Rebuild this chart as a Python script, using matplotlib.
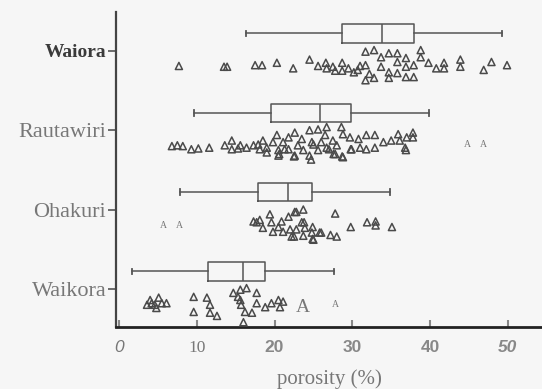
import matplotlib
matplotlib.use('Agg')
import matplotlib.pyplot as plt

# ---------------- data ----------------
sites = ['Waiora', 'Rautawiri', 'Ohakuri', 'Waikora']
whislo = [16.3, 9.7, 7.8, 1.7]
q1 = [28.7, 19.5, 17.9, 11.4]
med = [33.8, 25.8, 21.7, 15.9]
q3 = [37.9, 29.8, 24.8, 18.8]
whishi = [49.3, 39.9, 34.8, 27.7]

# porosity values of individual samples and their vertical jitter (category units below row)
waiora_x = [7.7, 13.5, 13.9, 17.5, 18.4, 20.3, 22.4, 24.5, 25.6, 26.6, 26.7, 27.5, 27.8,
            28.7, 28.7, 29.5, 30.2, 30.7, 31.0, 31.7, 31.7, 31.7, 32.2, 32.8, 32.8, 33.7,
            33.7, 34.7, 34.7, 34.7, 35.8, 35.8, 35.8, 36.9, 36.9, 36.9, 37.9, 37.9, 38.8,
            38.8, 39.8, 40.8, 41.8, 41.8, 43.9, 43.9, 46.9, 47.9, 49.9]
waiora_dy = [0.19, 0.20, 0.20, 0.18, 0.18, 0.15, 0.22, 0.11, 0.19, 0.15, 0.22, 0.20, 0.25,
             0.15, 0.25, 0.22, 0.27, 0.24, 0.19, 0.18, 0.01, 0.37, 0.29, -0.01, 0.34, 0.08,
             0.20, 0.03, 0.27, 0.34, 0.03, 0.14, 0.28, 0.09, 0.20, 0.33, 0.18, 0.33, -0.01,
             0.08, 0.15, 0.22, 0.15, 0.22, 0.11, 0.20, 0.24, 0.14, 0.18]

rauta_x = [6.8, 7.5, 8.2, 9.3, 10.2, 11.6, 13.6, 14.5, 14.5, 15.3, 15.6, 16.4, 17.3, 17.9,
           18.1, 18.5, 19.0, 19.0, 19.8, 20.3, 20.5, 20.5, 21.1, 21.3, 21.8, 21.8, 22.6, 22.6,
           23.5, 23.7, 24.5, 24.5, 24.8, 25.6, 25.6, 26.5, 26.7, 26.7, 27.5, 27.8, 28.6, 28.8,
           28.8, 29.7, 29.9, 30.8, 31.0, 31.8, 31.8, 32.9, 32.9, 34.0, 35.0, 35.9, 36.1, 36.8,
           37.0, 37.8, 37.8, 36.9, 20.6, 22.5, 24.7, 27.6, 28.7, 29.8, 23.0, 25.0, 26.0, 27.0,
           28.0]
rauta_dy = [0.20, 0.19, 0.20, 0.24, 0.23, 0.22, 0.19, 0.13, 0.24, 0.23, 0.19, 0.22, 0.19,
            0.18, 0.24, 0.13, 0.22, 0.28, 0.15, 0.06, 0.25, 0.32, 0.15, 0.24, 0.09, 0.24,
            0.03, 0.32, 0.11, 0.25, 0.00, 0.32, 0.15, -0.01, 0.25, 0.06, -0.04, 0.22, 0.13,
            0.30, -0.04, 0.05, 0.34, 0.09, 0.24, 0.11, 0.22, 0.06, 0.24, 0.06, 0.22, 0.15,
            0.13, 0.05, 0.13, 0.22, 0.09, 0.09, 0.03, 0.25, 0.30, 0.33, 0.37, 0.30, 0.33,
            0.24, 0.19, 0.18, 0.15, 0.24, 0.19]

ohak_x = [17.3, 17.7, 18.1, 18.5, 19.4, 19.6, 19.8, 20.5, 20.9, 21.1, 21.8, 22.0, 22.2, 22.6,
          22.8, 23.5, 23.7, 23.9, 24.8, 25.0, 25.8, 22.5, 23.7, 24.9, 26.0, 27.2, 28.0, 27.8,
          29.8, 31.9, 33.0, 33.0, 35.1, 23.8, 24.9, 22.8]
ohak_dy = [0.15, 0.16, 0.13, 0.23, 0.06, 0.16, 0.28, 0.22, 0.15, 0.28, 0.09, 0.25, 0.34, 0.03,
           0.25, 0.16, 0.00, 0.23, 0.29, 0.38, 0.29, 0.34, 0.33, 0.37, 0.29, 0.32, 0.34, 0.05,
           0.22, 0.16, 0.15, 0.20, 0.22, 0.16, 0.22, 0.03]

waik_x = [3.6, 4.0, 4.2, 4.6, 4.8, 5.1, 5.5, 6.1, 9.6, 9.6, 11.3, 11.7, 11.7, 12.6, 14.7, 15.6,
          16.4, 17.7, 15.6, 15.7, 16.2, 16.0, 17.1, 17.7, 18.8, 19.6, 20.5, 20.7, 21.1, 15.3]
waik_dy = [0.20, 0.14, 0.18, 0.20, 0.24, 0.11, 0.18, 0.18, 0.10, 0.29, 0.11, 0.20, 0.30, 0.34,
           0.05, 0.01, -0.01, 0.05, 0.14, 0.20, 0.29, 0.42, 0.30, 0.18, 0.23, 0.18, 0.14, 0.23,
           0.16, 0.10]

# stray "A" glyphs printed in place of triangles (value, row, jitter, size)
a_x = [44.8, 46.9, 5.7, 7.8, 23.7, 27.8]
a_row = [1, 1, 2, 2, 3, 3]
a_dy = [0.18, 0.18, 0.20, 0.20, 0.23, 0.20]
a_size = [7, 7, 7, 7, 14, 7]

# ---------------- figure ----------------
BG = '#f6f6f6'
fig = plt.figure(figsize=(5.42, 3.89), dpi=100, facecolor=BG)
ax = fig.add_axes([116 / 542, 62 / 389, 426 / 542, 315 / 389])
ax.set_facecolor(BG)

n = len(sites)
pos = [n - 1 - i for i in range(n)]  # Waiora on top
box_off = 0.22

stats = []
for i in range(n):
    stats.append(dict(whislo=whislo[i], q1=q1[i], med=med[i], q3=q3[i],
                      whishi=whishi[i], fliers=[], label=sites[i]))

lc = '#555555'
ax.bxp(stats, positions=[p + box_off for p in pos], vert=False, widths=0.23,
       showfliers=False, capwidths=0.07,
       boxprops=dict(color=lc, linewidth=1.1),
       medianprops=dict(color=lc, linewidth=1.1),
       whiskerprops=dict(color=lc, linewidth=1.1),
       capprops=dict(color=lc, linewidth=1.3),
       manage_ticks=False)

groups = [(waiora_x, waiora_dy), (rauta_x, rauta_dy), (ohak_x, ohak_dy), (waik_x, waik_dy)]
for i, (xs, dys) in enumerate(groups):
    ys = [pos[i] - d for d in dys]
    ax.scatter(xs, ys, marker='^', s=26, facecolors='none', edgecolors='#4a4a4a',
               linewidths=1.1, zorder=3)

for xv, r, d, sz in zip(a_x, a_row, a_dy, a_size):
    ax.text(xv, pos[r] - d, 'A', fontsize=sz, family='Liberation Serif',
            color='#777777', ha='center', va='center')

ax.set_xlim(-0.39, 54.4)
ax.set_ylim(-0.48, 3.49)

ax.set_yticks(pos)
ax.set_yticklabels(sites)
ax.tick_params(axis='y', direction='out', length=6, width=1.2, color='#555555', pad=1)
ax.set_xticks([0, 10, 20, 30, 40, 50])
ax.set_xticklabels(['0', '10', '20', '30', '40', '50'])
ax.tick_params(axis='x', direction='in', length=5, width=1.5, color='#888888', pad=9)

ylab_styles = [
    dict(family='Liberation Serif', weight='bold', size=14, color='#3a3a3a'),
    dict(family='Liberation Serif', weight='normal', size=16, color='#777777'),
    dict(family='Liberation Serif', weight='normal', size=16, color='#777777'),
    dict(family='Liberation Serif', weight='normal', size=16, color='#777777'),
]
for lab, st in zip(ax.get_yticklabels(), ylab_styles):
    lab.set_fontfamily(st['family'])
    lab.set_fontweight(st['weight'])
    lab.set_fontsize(st['size'])
    lab.set_color(st['color'])

xlab_styles = [
    dict(family='Liberation Sans', weight='normal', style='italic', color='#777777'),
    dict(family='Liberation Serif', weight='normal', style='normal', color='#777777'),
    dict(family='Liberation Sans', weight='bold', style='normal', color='#888888'),
    dict(family='Liberation Sans', weight='bold', style='normal', color='#888888'),
    dict(family='Liberation Sans', weight='bold', style='normal', color='#888888'),
    dict(family='Liberation Sans', weight='bold', style='italic', color='#888888'),
]
for lab, st in zip(ax.get_xticklabels(), xlab_styles):
    lab.set_fontfamily(st['family'])
    lab.set_fontweight(st['weight'])
    lab.set_fontstyle(st['style'])
    lab.set_color(st['color'])
    lab.set_fontsize(12.5)

ax.set_xlabel('porosity (%)', family='Liberation Serif', fontsize=15,
              color='#777777', labelpad=10)

for s in ['top', 'right']:
    ax.spines[s].set_visible(False)
ax.spines['left'].set_color('#444444')
ax.spines['left'].set_linewidth(1.6)
ax.spines['bottom'].set_color('#222222')
ax.spines['bottom'].set_linewidth(2.0)

fig.savefig('out.png', dpi=100, facecolor=BG)
